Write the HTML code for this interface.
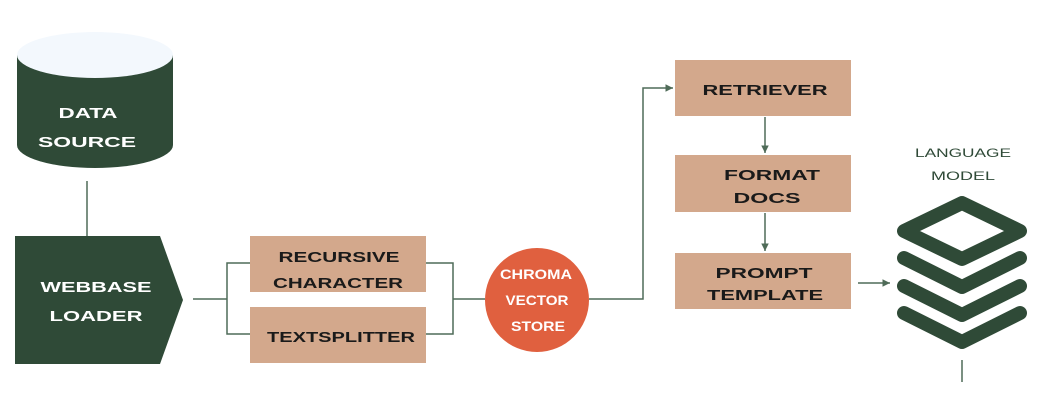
<!DOCTYPE html>
<html><head><meta charset="utf-8"><style>
body{margin:0;background:#fff;}
svg text{font-family:"Liberation Sans",sans-serif;font-weight:bold;text-anchor:middle;}
</style></head><body>
<svg width="1055" height="405" viewBox="0 0 1055 405" xmlns="http://www.w3.org/2000/svg">
<defs><marker id="a" markerWidth="6" markerHeight="6" refX="5" refY="3" orient="auto"><path d="M0,0.5 L5,3 L0,5.5z" fill="#4f6b58"/></marker></defs>
<path d="M17,55 L17,145 A78,23 0 0 0 173,145 L173,55 Z" fill="#2f4a37"/>
<ellipse cx="95" cy="55" rx="78" ry="23" fill="#f3f8fd"/>
<text x="88" y="118" font-size="15" fill="#fff" textLength="59" lengthAdjust="spacingAndGlyphs">DATA</text>
<text x="87" y="147" font-size="15" fill="#fff" textLength="98" lengthAdjust="spacingAndGlyphs">SOURCE</text>
<line x1="87" y1="181" x2="87" y2="236" stroke="#4f6b58" stroke-width="1.5"/>
<path d="M15,236 L160,236 L183,300 L160,364 L15,364Z" fill="#2f4a37"/>
<text x="96" y="292" font-size="15" fill="#fff" textLength="111" lengthAdjust="spacingAndGlyphs">WEBBASE</text>
<text x="96" y="321" font-size="15" fill="#fff" textLength="93" lengthAdjust="spacingAndGlyphs">LOADER</text>
<g stroke="#4f6b58" stroke-width="1.5" fill="none">
<path d="M193,299 H227 M250,263 H227 V334 H250 M426,263 H453 V334 H426 M453,299 H485"/>
<path d="M589,299 H643 V88 H673" marker-end="url(#a)"/>
<path d="M765,117 V153" marker-end="url(#a)"/>
<path d="M765,213 V251" marker-end="url(#a)"/>
<path d="M858,283 H890" marker-end="url(#a)"/>
<path d="M962,360 V382"/>
</g>
<rect x="250" y="236" width="176" height="56" fill="#d3a88c"/>
<rect x="250" y="307" width="176" height="56" fill="#d3a88c"/>
<text x="339" y="262" font-size="14.5" fill="#1a1a1a" textLength="121" lengthAdjust="spacingAndGlyphs">RECURSIVE</text>
<text x="338" y="288" font-size="14.5" fill="#1a1a1a" textLength="130" lengthAdjust="spacingAndGlyphs">CHARACTER</text>
<text x="341" y="342" font-size="14.5" fill="#1a1a1a" textLength="148" lengthAdjust="spacingAndGlyphs">TEXTSPLITTER</text>
<circle cx="537" cy="300" r="52" fill="#e0603f"/>
<text x="536" y="279" font-size="14" fill="#fff" textLength="72" lengthAdjust="spacingAndGlyphs">CHROMA</text>
<text x="537" y="305" font-size="14" fill="#fff" textLength="63" lengthAdjust="spacingAndGlyphs">VECTOR</text>
<text x="538" y="331" font-size="14" fill="#fff" textLength="54" lengthAdjust="spacingAndGlyphs">STORE</text>
<rect x="675" y="60" width="176" height="56" fill="#d3a88c"/>
<rect x="675" y="155" width="176" height="57" fill="#d3a88c"/>
<rect x="675" y="253" width="176" height="56" fill="#d3a88c"/>
<text x="765" y="95" font-size="15" fill="#1a1a1a" textLength="125" lengthAdjust="spacingAndGlyphs">RETRIEVER</text>
<text x="772" y="180" font-size="15" fill="#1a1a1a" textLength="96" lengthAdjust="spacingAndGlyphs">FORMAT</text>
<text x="767" y="203" font-size="15" fill="#1a1a1a" textLength="67" lengthAdjust="spacingAndGlyphs">DOCS</text>
<text x="764" y="278" font-size="15" fill="#1a1a1a" textLength="97" lengthAdjust="spacingAndGlyphs">PROMPT</text>
<text x="765" y="300" font-size="15" fill="#1a1a1a" textLength="116" lengthAdjust="spacingAndGlyphs">TEMPLATE</text>
<text x="963" y="157" font-size="12" fill="#2f4a37" style="font-weight:normal" textLength="96" lengthAdjust="spacingAndGlyphs">LANGUAGE</text>
<text x="963" y="180" font-size="12" fill="#2f4a37" style="font-weight:normal" textLength="64" lengthAdjust="spacingAndGlyphs">MODEL</text>
<g stroke="#2f4a37" stroke-width="14" fill="none" stroke-linecap="round" stroke-linejoin="round">
<path d="M962,203 L1020,231 L962,259 L904,231Z"/>
<path d="M904,258 L962,287 L1020,258"/>
<path d="M904,286 L962,315 L1020,286"/>
<path d="M904,313 L962,342 L1020,313"/>
</g>
</svg>
</body></html>
